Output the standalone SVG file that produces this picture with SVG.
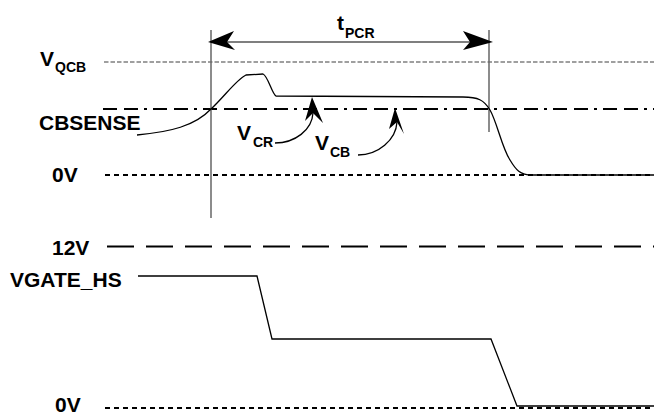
<svg xmlns="http://www.w3.org/2000/svg" width="654" height="417" viewBox="0 0 654 417">
<style>
text{font-family:"Liberation Sans",Arial,sans-serif;font-weight:bold;fill:#000}
.lbl{font-size:21px}
.sub{font-size:14px}
.wave{fill:none;stroke:#000;stroke-width:1.3}
.ref{fill:none}
.head{fill:#000;stroke:none}
</style>
<rect width="654" height="417" fill="#fff"/>
<g id="references">
<line class="ref" x1="104" y1="62" x2="654" y2="62" stroke="#808080" stroke-width="1.5" stroke-dasharray="4.5 2"/>
<line class="ref" x1="103" y1="109" x2="654" y2="109" stroke="#000" stroke-width="2" stroke-dasharray="14 7 14 6 3 6"/>
<line class="ref" x1="105" y1="175" x2="654" y2="175" stroke="#000" stroke-width="2" stroke-dasharray="5 4"/>
<line class="ref" x1="107" y1="246.5" x2="654" y2="246.5" stroke="#000" stroke-width="2" stroke-dasharray="27 12"/>
<line class="ref" x1="105" y1="408" x2="654" y2="408" stroke="#000" stroke-width="2" stroke-dasharray="5 4"/>
<line class="ref" x1="211" y1="30" x2="211" y2="218" stroke="#666" stroke-width="1.5"/>
<line class="ref" x1="489" y1="30" x2="489" y2="132" stroke="#666" stroke-width="1.5"/>
</g>
<g id="labels">
<text class="lbl" x="40" y="66">V</text><text class="sub" x="55" y="72">QCB</text>
<text class="lbl" x="39" y="130">CBSENSE</text>
<text class="lbl" x="52" y="182">0V</text>
<text class="lbl" x="52" y="255">12V</text>
<text class="lbl" x="10" y="287">VGATE_HS</text>
<text class="lbl" x="55" y="412">0V</text>
<text class="lbl" x="337" y="30">t</text><text class="sub" x="345" y="38">PCR</text>
<text class="lbl" x="237" y="140">V</text><text class="sub" x="253" y="147">CR</text>
<text class="lbl" x="315" y="150">V</text><text class="sub" x="330" y="157">CB</text>
</g>
<g id="waveforms">
<path id="cbsense-signal" class="wave" d="M137,135 C170,132 195,126 211,109 C225,96 236,80 246,75 L263,74 C268,76 272,94 276,96 L463,97 C478,97 484,100 490,110 C497,122 502,148 510,160 C516,170 520,175 532,175 L654,175"/>
<path id="vgate-signal" class="wave" stroke-width="1.5" d="M138,276 L257,276 L272,339 L491,339 L517,406 L654,406"/>
</g>
<g id="connectors">
<line x1="211" y1="42" x2="489" y2="42" stroke="#000" stroke-width="1.2"/>
<polygon class="head" points="208,42 234,31 227,42 235,50"/>
<polygon class="head" points="493,42 463,31 470,42 463,50"/>
<path class="wave" stroke-width="1.2" d="M275,143 C295,143 312,130 313,113"/>
<polygon class="head" points="312,97 305,121 313,113 323,123"/>
<path class="wave" stroke-width="1.2" d="M358,155 C378,155 396,140 397,122"/>
<polygon class="head" points="395,108 389,129 397,122 404,134"/>
</g>
</svg>
